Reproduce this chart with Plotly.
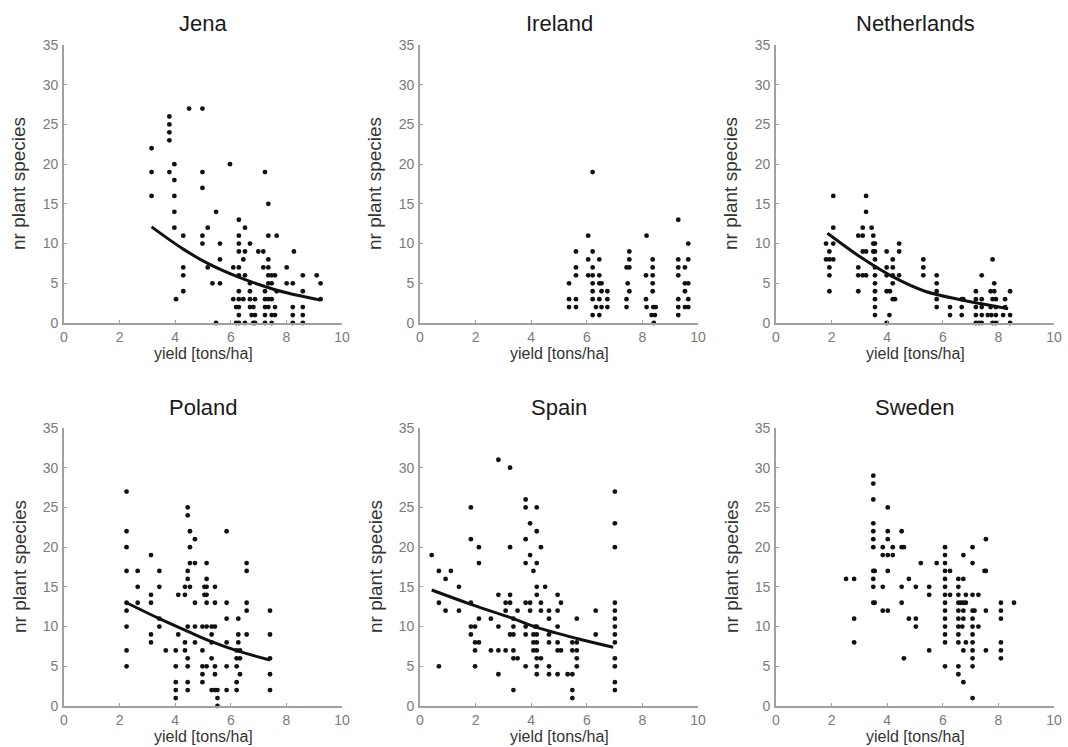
import plotly.graph_objects as go

# ---------------- data ----------------
panel_names = ["Jena", "Ireland", "Netherlands", "Poland", "Spain", "Sweden"]

jena_x = [3.15, 3.15, 3.15, 3.79, 3.79, 3.79, 3.79, 3.79, 3.97, 3.97, 3.97, 3.97, 3.97, 4.03,
          4.29, 4.29, 4.29, 4.29, 4.50, 4.98, 4.98, 4.98, 4.98, 4.98, 5.17, 5.17, 5.34, 5.47, 5.47,
          5.61, 5.61, 5.61, 5.97, 6.09, 6.09,
          6.29, 6.29, 6.29, 6.29, 6.51, 6.45, 6.29, 6.29, 6.51, 6.29, 6.29, 6.45, 6.19, 6.29, 6.29, 6.19, 6.29, 6.51,
          6.51, 6.69, 6.69, 6.69, 6.69, 6.69, 6.81, 6.75, 6.87, 6.81, 6.87, 6.87,
          6.99, 7.17, 7.17, 7.23, 7.23, 7.23, 7.23, 7.23, 7.23,
          7.35, 7.35, 7.35, 7.35, 7.35, 7.47, 7.59, 7.35, 7.47, 7.35, 7.47, 7.35, 7.59, 7.47, 7.59, 7.47,
          7.65, 7.65, 8.01, 8.01, 8.23, 8.27, 8.23, 8.23, 8.23, 8.59, 8.59, 8.59, 8.59, 8.59,
          9.09, 9.23, 9.23]
jena_y = [22, 19, 16, 26, 25, 24, 23, 19, 20, 18, 16, 14, 12, 3,
          11, 7, 6, 4, 27, 27, 19, 17, 11, 10, 12, 7, 5, 14, 0,
          10, 8, 5, 20, 7, 3,
          13, 11, 10, 9, 9, 8, 7, 6, 6, 4, 3, 3, 2, 2, 1, 0, 0, 0,
          12, 10, 5, 4, 3, 2, 2, 1, 1, 0, 0, 3,
          9, 9, 7, 19, 4, 3, 2, 1, 0,
          15, 11, 8, 7, 6, 6, 6, 5, 5, 3, 3, 2, 2, 1, 1, 0,
          11, 4, 7, 5, 5, 9, 2, 1, 0, 6, 4, 2, 1, 0,
          6, 5, 3]
jena_fit_x = [3.15, 4.29, 5.17, 6.33, 7.23, 8.01, 9.21]
jena_fit_y = [12.1, 9.3, 7.5, 5.7, 4.6, 3.8, 2.9]

ireland_x = [6.21, 6.05, 5.61, 6.21, 6.05, 6.45, 5.61, 6.21, 5.61, 6.05, 6.21, 6.45, 5.36, 6.21, 6.45, 6.53,
             6.21, 6.53, 6.74, 5.36, 5.61, 6.21, 6.45, 6.74, 5.36, 5.61, 6.33, 6.53, 6.74, 6.21, 6.45,
             7.53, 7.53, 7.43, 7.53, 7.47, 7.53, 7.43, 7.43,
             8.15, 8.37, 8.37, 8.13, 8.37, 8.37, 8.37, 8.13, 8.15, 8.39, 8.48, 8.33, 8.45, 8.41,
             9.29, 9.65, 9.29, 9.65, 9.29, 9.53, 9.29, 9.53, 9.65, 9.53, 9.29, 9.65, 9.29, 9.53, 9.65, 9.29]
ireland_y = [19, 11, 9, 9, 8, 8, 7, 7, 6, 6, 6, 6, 5, 5, 5, 5,
             4, 4, 4, 3, 3, 3, 3, 3, 2, 2, 2, 2, 2, 1, 1,
             9, 8, 7, 7, 5, 4, 3, 2,
             11, 8, 7, 6, 6, 5, 4, 3, 2, 2, 2, 1, 1, 0,
             13, 10, 8, 8, 7, 7, 6, 5, 5, 4, 3, 3, 2, 2, 2, 1]

netherlands_x = [2.06, 2.06, 1.80, 2.06, 1.92, 1.80, 1.92, 2.06, 1.92, 1.92, 1.92,
                 3.24, 3.24, 3.12, 3.44, 2.96, 3.12, 3.50, 3.50, 3.56, 3.12, 3.24, 3.50, 3.56, 3.56, 2.96, 3.56,
                 2.96, 3.12, 3.24, 3.56, 3.56, 2.96, 3.56, 3.56, 3.56, 3.56,
                 4.43, 3.98, 4.43, 4.20, 3.98, 4.20, 3.98, 4.20, 4.43, 4.20, 3.98, 4.10, 4.20, 4.28, 4.08, 3.98,
                 5.30, 5.30, 5.30, 5.78, 5.78, 5.78, 5.78, 5.78, 6.26, 6.26,
                 6.68, 6.74, 6.68, 6.68,
                 7.40, 7.19, 7.19, 7.40, 7.19, 7.40, 7.19, 7.40, 7.19, 7.30, 7.40,
                 7.79, 7.85, 7.72, 7.85, 7.79, 7.91, 7.72, 7.91, 7.62, 7.75, 7.91, 7.79, 7.91,
                 8.24, 8.42, 8.24, 8.17, 8.42, 8.42]
netherlands_y = [16, 12, 10, 10, 9, 8, 8, 8, 7, 6, 4,
                 16, 14, 12, 12, 11, 11, 11, 10, 10, 9, 9, 9, 9, 8, 7, 7,
                 6, 6, 6, 6, 5, 4, 4, 3, 2, 1,
                 10, 9, 9, 8, 7, 7, 6, 6, 6, 5, 4, 4, 3, 3, 1, 0,
                 8, 7, 6, 6, 5, 4, 3, 2, 2, 1,
                 3, 3, 2, 1,
                 6, 4, 3, 3, 2, 2, 1, 1, 0, 0, 0,
                 8, 5, 4, 4, 3, 3, 2, 2, 1, 1, 1, 0, 0,
                 3, 4, 2, 1, 1, 0]
netherlands_fit_x = [1.85, 3.08, 4.16, 5.36, 6.68, 7.88, 8.35]
netherlands_fit_y = [11.3, 8.2, 5.9, 4.0, 2.9, 2.1, 1.8]

poland_x = [2.25, 2.25, 2.25, 2.25, 2.25, 2.25, 2.25, 2.25, 2.25,
            2.65, 2.65, 2.65, 3.13, 3.13, 3.13, 3.13, 3.13, 3.43, 3.43, 3.43, 3.43, 3.66,
            4.02, 4.02, 4.02, 4.02, 4.02, 4.11, 4.11,
            4.45, 4.45, 4.53, 4.53, 4.71, 4.53, 4.71, 4.45, 4.45, 4.35, 4.53, 4.35, 4.71, 4.45, 4.71,
            4.35, 4.71, 4.35, 4.45, 4.45, 4.45, 4.45,
            5.13, 5.13, 5.05, 5.13, 5.05, 5.13, 5.13, 4.98, 5.13, 4.98, 4.98, 4.98, 4.98, 5.13,
            5.43, 5.43, 5.31, 5.43, 5.31, 5.31, 5.31, 5.43, 5.43, 5.31, 5.43, 5.52, 5.52, 5.52,
            5.85, 5.85, 5.85, 5.85, 5.85, 5.85,
            6.27, 6.27, 6.27, 6.21, 6.33, 6.21, 6.33, 6.21, 6.33, 6.21, 6.21,
            6.57, 6.57, 6.57, 6.57, 6.57, 7.41, 7.41, 7.41, 7.41, 7.41]
poland_y = [27, 22, 20, 17, 13, 12, 10, 7, 5,
            17, 15, 13, 19, 14, 13, 9, 8, 17, 15, 11, 10, 7,
            7, 5, 3, 2, 1, 14, 9,
            25, 24, 22, 20, 21, 18, 18, 17, 16, 15, 15, 14, 13, 10, 10,
            8, 8, 7, 6, 5, 3, 2,
            18, 16, 15, 15, 14, 14, 13, 10, 10, 7, 5, 4, 3, 5,
            15, 13, 10, 10, 9, 8, 6, 5, 4, 2, 2, 2, 1, 0,
            22, 13, 11, 8, 5, 2,
            11, 9, 8, 7, 7, 6, 6, 5, 4, 3, 2,
            18, 17, 13, 12, 9, 12, 9, 6, 4, 2]
poland_fit_x = [2.25, 3.43, 4.45, 5.31, 6.27, 7.41]
poland_fit_y = [13.0, 11.0, 9.4, 8.1, 6.9, 5.8]

spain_x = [0.42, 0.68, 1.11, 0.92, 1.40, 0.68, 0.92, 1.40, 0.68,
           1.83, 1.83, 2.12, 2.12, 1.83, 2.12, 2.55, 1.83, 1.98, 1.83, 1.98, 2.12, 1.98, 1.98,
           2.82, 3.24, 3.24, 2.82, 3.24, 3.08, 3.24, 3.08, 3.51, 3.36, 2.82, 3.36, 3.24, 3.36,
           2.55, 2.82, 3.08, 3.36, 3.36, 3.51, 2.82, 3.36,
           3.80, 3.80, 4.20, 3.96, 4.20, 3.80, 4.35, 3.96, 3.80, 4.20, 4.08, 4.20, 4.50, 4.20,
           3.80, 3.96, 4.35, 3.96, 4.35, 4.64, 4.95, 5.07, 4.95,
           4.64, 5.64, 3.80, 4.14, 4.20, 4.95, 3.80, 4.08, 4.20, 4.64, 4.08, 4.20, 4.64, 4.95, 5.48, 5.64,
           4.08, 4.20, 4.95, 5.07, 5.48, 5.64, 4.20, 4.35, 5.64, 3.80, 4.20, 4.64, 5.64,
           4.20, 4.64, 4.95, 5.31, 5.48, 5.48, 5.48,
           6.32, 6.32,
           7.01, 7.01, 7.01, 7.01, 7.01, 7.01, 7.01, 7.01, 7.01, 7.01, 7.01, 7.01, 7.01]
spain_y = [19, 17, 17, 16, 15, 13, 12, 12, 5,
           25, 21, 20, 18, 13, 11, 11, 10, 10, 9, 8, 8, 7, 5,
           31, 30, 20, 14, 14, 13, 13, 12, 12, 11, 10, 10, 9, 9,
           7, 7, 7, 7, 6, 6, 4, 2,
           26, 25, 25, 23, 22, 21, 20, 19, 18, 18, 17, 15, 15, 14,
           13, 13, 13, 12, 12, 12, 14, 13, 12,
           11, 11, 10, 10, 10, 10, 9, 9, 9, 9, 8, 8, 8, 8, 8, 8,
           7, 7, 7, 7, 7, 7, 6, 6, 6, 5, 5, 5, 5,
           4, 4, 4, 4, 4, 2, 1,
           12, 9,
           27, 23, 20, 13, 12, 11, 10, 9, 8, 6, 5, 3, 2]
spain_fit_x = [0.42, 1.83, 3.36, 4.20, 5.64, 6.95]
spain_fit_y = [14.6, 12.8, 11.0, 9.9, 8.5, 7.4]

sweden_x = [2.52, 2.81, 2.81, 2.81,
            3.50, 3.50, 3.50, 3.50, 3.50, 3.50, 3.50, 3.50, 3.55, 3.50, 3.50, 3.50, 3.55,
            3.84, 3.84, 3.84, 3.84, 4.02,
            4.02, 4.02, 4.02, 4.02, 4.20, 4.20, 4.02,
            4.52, 4.52, 4.60, 4.52, 4.52, 4.78, 4.60, 4.78, 5.03, 5.03, 5.03,
            5.21, 5.51, 5.51, 5.51, 5.78,
            6.08, 6.08, 6.08, 6.08, 6.26, 6.08, 6.08, 6.08, 6.26, 6.08, 6.08, 6.08, 6.08, 6.08, 6.08, 6.08,
            6.56, 6.74, 6.56, 6.56, 6.83, 6.56, 6.65, 6.74, 6.83, 6.56, 6.74, 6.56, 6.74, 6.56, 6.70,
            6.56, 6.56, 6.83, 6.56, 6.56, 6.74, 6.74, 6.74,
            7.07, 7.07, 7.07, 7.28, 7.07, 7.14, 7.07, 7.07, 7.28, 7.07, 7.07, 7.07, 7.07, 7.07, 7.07,
            7.55, 7.55, 7.50, 7.55, 7.55,
            8.09, 8.09, 8.09, 8.09, 8.09, 8.09, 8.56]
sweden_y = [16, 16, 11, 8,
            29, 28, 26, 23, 22, 21, 20, 17, 17, 16, 15, 13, 13,
            20, 19, 15, 12, 12,
            25, 22, 21, 19, 19, 20, 17,
            22, 20, 20, 15, 13, 16, 6, 11, 11, 10, 15,
            18, 15, 14, 7, 18,
            20, 19, 18, 17, 17, 16, 15, 14, 14, 13, 12, 11, 10, 9, 8, 5,
            16, 16, 15, 14, 14, 13, 13, 13, 13, 12, 12, 11, 11, 10, 10,
            9, 8, 8, 5, 4, 3, 19, 7,
            20, 18, 14, 14, 12, 12, 11, 10, 10, 9, 8, 7, 6, 5, 1,
            21, 17, 17, 12, 7,
            13, 12, 11, 8, 7, 6, 13]

x_ticks = [0, 2, 4, 6, 8, 10]
y_ticks = [0, 5, 10, 15, 20, 25, 30, 35]
x_label = "yield [tons/ha]"
y_label = "nr plant species"

scatter_sets = [(jena_x, jena_y), (ireland_x, ireland_y), (netherlands_x, netherlands_y),
                (poland_x, poland_y), (spain_x, spain_y), (sweden_x, sweden_y)]
fit_sets = [(jena_fit_x, jena_fit_y), None, (netherlands_fit_x, netherlands_fit_y),
            (poland_fit_x, poland_fit_y), (spain_fit_x, spain_fit_y), None]

# ---------------- layout geometry (window pixels, 1068x747) ----------------
W, H = 1068, 747
col_px = [(64, 342), (420, 698), (776, 1054)]
row_px = [(45, 323), (428, 706)]   # top, bottom

fig = go.Figure()
annotations = []
layout_axes = {}

FONT = "Liberation Sans, Arial, sans-serif"
AX_COL = "#a0a0a0"


def px_x(v):
    return v / W


def px_y(v):
    return 1 - v / H


for i, name in enumerate(panel_names):
    r, c = divmod(i, 3)
    x0, x1 = col_px[c]
    yt, yb = row_px[r]
    xd = [px_x(x0), px_x(x1)]
    yd = [px_y(yb), px_y(yt)]
    sfx = "" if i == 0 else str(i + 1)
    xa, ya = "x" + sfx, "y" + sfx

    sx, sy = scatter_sets[i]
    fig.add_trace(go.Scatter(x=sx, y=sy, mode="markers", xaxis=xa, yaxis=ya,
                             marker=dict(size=4.8, color="#111111"),
                             cliponaxis=False, showlegend=False, hoverinfo="x+y"))
    if fit_sets[i] is not None:
        fx, fy = fit_sets[i]
        fig.add_trace(go.Scatter(x=fx, y=fy, mode="lines", xaxis=xa, yaxis=ya,
                                 line=dict(color="#111111", width=3, shape="spline", smoothing=1.0),
                                 showlegend=False, hoverinfo="skip"))

    common = dict(showline=True, linecolor=AX_COL, linewidth=1.6, ticks="inside", ticklen=3,
                  tickcolor=AX_COL, tickwidth=1, showgrid=False, zeroline=False,
                  automargin=False, fixedrange=True,
                  tickfont=dict(size=14, color="#7a7a7a", family=FONT))
    layout_axes["xaxis" + sfx] = dict(domain=xd, anchor=ya, range=[0, 10], tickvals=x_ticks,
                                      ticktext=[str(v) for v in x_ticks], ticklabelstandoff=0,
                                      **common)
    layout_axes["yaxis" + sfx] = dict(domain=yd, anchor=xa, range=[0, 35], tickvals=y_ticks,
                                      ticktext=[str(v) for v in y_ticks], ticklabelstandoff=1,
                                      **common)

    xc = px_x((x0 + x1) / 2)
    annotations.append(dict(text=name, x=xc, y=px_y(yt - 21), xref="paper", yref="paper",
                            xanchor="center", yanchor="middle", showarrow=False,
                            font=dict(size=22, color="#1a1a1a", family=FONT)))
    annotations.append(dict(text=x_label, x=xc, y=px_y(yb + 30), xref="paper", yref="paper",
                            xanchor="center", yanchor="middle", showarrow=False,
                            font=dict(size=16, color="#333333", family=FONT)))
    annotations.append(dict(text=y_label, x=px_x(x0 - 45), y=px_y((yt + yb) / 2),
                            xref="paper", yref="paper", xanchor="center", yanchor="middle",
                            textangle=-90, showarrow=False,
                            font=dict(size=19, color="#333333", family=FONT)))

fig.update_layout(width=W, height=H, margin=dict(l=0, r=0, t=0, b=0),
                  paper_bgcolor="white", plot_bgcolor="white",
                  annotations=annotations, **layout_axes)

# remove the browser's default page margin so the figure fills the window exactly
fig.write_html("out.html", config={"displayModeBar": False},
               post_script="document.body.style.margin='0';document.body.style.overflow='hidden';")
